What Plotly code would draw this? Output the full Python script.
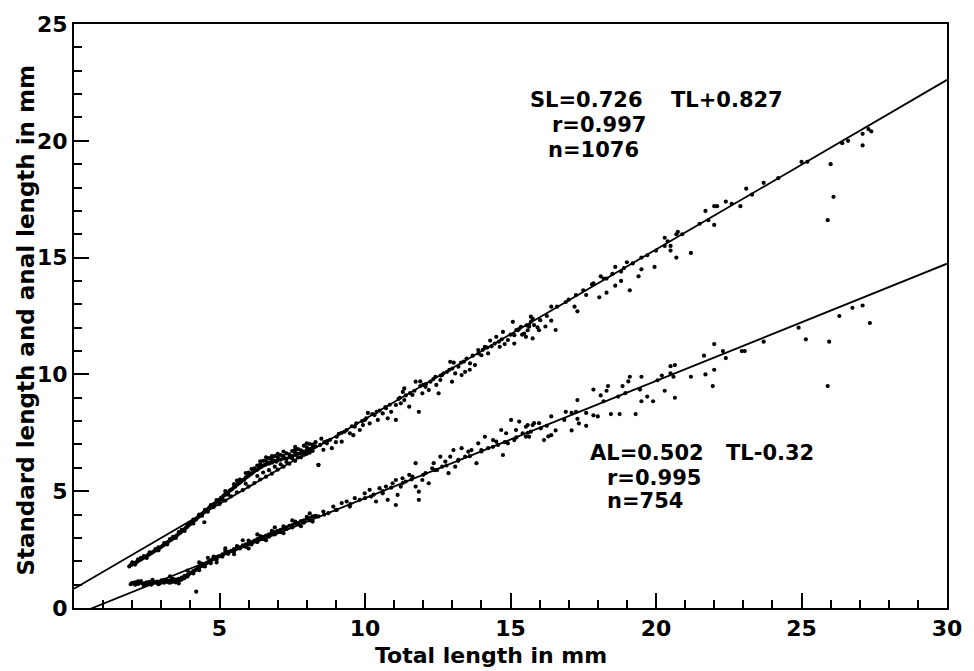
import plotly.graph_objects as go

# ---------------- data ----------------
# Standard length (SL) vs total length (TL)
sl_points = [
    # dense band, small fish
    (1.90,1.78),(1.95,1.84),(2.00,1.86),(2.05,1.90),(2.10,1.93),(2.15,1.97),(2.20,2.00),(2.25,2.06),
    (2.30,2.08),(2.35,2.12),(2.40,2.16),(2.45,2.18),(2.50,2.22),(2.55,2.27),(2.60,2.30),(2.65,2.35),
    (2.70,2.38),(2.75,2.43),(2.80,2.46),(2.85,2.50),(2.90,2.54),(2.95,2.58),(3.00,2.62),(3.05,2.67),
    (3.10,2.71),(3.15,2.75),(3.20,2.80),(3.25,2.84),(3.30,2.90),(3.35,2.93),(3.40,2.98),(3.45,3.03),
    (3.50,3.08),(3.55,3.12),(3.60,3.18),(3.65,3.22),(3.70,3.28),(3.75,3.33),(3.80,3.38),(3.85,3.44),
    (3.90,3.48),(3.95,3.55),(4.00,3.60),(4.05,3.66),(4.10,3.70),(4.15,3.76),(4.20,3.80),
    (2.30,2.15),(2.80,2.52),(3.30,2.95),(3.60,3.25),
    (2.00,1.95),(2.20,2.08),(2.40,2.22),(2.60,2.38),(2.90,2.60),(3.10,2.78),(3.40,3.05),(3.70,3.35),
    (3.90,3.58),(4.10,3.78),(2.10,1.86),(2.50,2.14),(2.90,2.47),(3.20,2.72),(3.50,3.00),(3.80,3.30),
    (4.10,3.62),
    (4.25,3.88),(4.30,3.92),(4.35,3.98),(4.40,4.03),(4.45,4.08),(4.50,4.12),(4.55,4.20),(4.60,4.22),
    (4.65,4.30),(4.70,4.33),(4.75,4.40),(4.80,4.45),(4.85,4.48),(4.90,4.55),(4.95,4.60),(5.00,4.63),
    (5.05,4.72),(5.10,4.75),(5.15,4.82),(5.20,4.85),(5.25,4.92),(5.30,4.95),(5.35,5.03),(5.40,5.06),
    (5.45,5.10),(5.50,5.18),(5.55,5.20),(5.60,5.28),(5.65,5.32),(5.70,5.36),(5.75,5.42),(5.80,5.48),
    (5.85,5.50),(5.90,5.58),(5.95,5.62),(6.00,5.66),(6.05,5.72),(6.10,5.75),(6.15,5.80),(6.20,5.86),
    (6.25,5.90),(6.30,5.92),(6.35,5.98),(6.40,6.02),(6.45,6.05),(6.50,6.10),(6.55,6.12),(6.60,6.15),
    (6.65,6.20),(6.70,6.18),(6.75,6.25),(6.80,6.22),(6.85,6.28),(6.90,6.30),(6.95,6.26),(7.00,6.32),
    (7.10,6.35),(7.20,6.40),(7.30,6.38),(7.40,6.45),(7.50,6.50),(7.60,6.55),(7.70,6.60),(7.80,6.62),
    (7.90,6.70),(8.00,6.75),(8.10,6.80),(8.20,6.88),(8.30,6.92),
    (4.30,4.00),(4.50,4.20),(4.70,4.40),(4.90,4.62),(4.40,3.95),(4.60,4.12),(4.80,4.32),(5.00,4.52),
    (5.10,4.65),(5.30,4.85),
    (5.00,4.45),(5.20,4.60),(5.40,4.78),(5.60,4.95),(5.80,5.05),(6.00,5.20),(6.20,5.35),(6.40,5.50),
    (6.60,5.62),(6.80,5.75),(7.00,5.92),(7.20,6.05),(7.40,6.18),(7.60,6.30),(7.80,6.45),(8.00,6.60),
    (8.20,6.72),
    (5.60,5.45),(5.90,5.78),(6.10,5.95),(6.30,6.10),(6.50,6.30),(6.70,6.42),(6.90,6.50),(7.10,6.55),
    (7.30,6.62),(7.50,6.72),(7.70,6.80),(7.90,6.95),(8.10,7.02),(6.60,6.45),(7.00,6.60),(7.60,6.90),
    (5.20,5.00),(5.50,5.30),(5.70,5.50),(6.00,5.80),(6.20,5.98),(6.40,6.15),(6.60,6.30),(6.80,6.38),
    (7.00,6.45),(7.20,6.50),(7.40,6.58),(7.60,6.65),(7.80,6.75),(8.00,6.88),(8.20,7.00),(5.90,5.32),
    (6.30,5.65),(6.70,5.90),(7.10,6.15),(7.50,6.40),(7.90,6.55),(6.50,5.80),(6.90,6.05),(7.30,6.25),
    (7.70,6.45),(8.10,6.65),(6.40,6.28),(6.80,6.50),(7.20,6.70),(7.60,6.78),(8.00,7.05),(8.30,7.10),
    (4.48,3.67),(8.40,6.12),
    # middle range
    (8.46,6.98),(8.57,6.77),(8.69,7.05),(8.86,6.84),(8.40,6.13),(9.03,7.33),(9.20,7.12),(9.37,7.62),
    (9.48,7.48),(9.65,7.76),(9.82,7.62),(9.93,7.83),(10.16,7.90),(10.04,8.12),(10.33,8.26),(10.44,8.05),
    (10.61,8.33),(10.72,8.55),(10.78,8.12),(11.06,8.05),(11.06,8.69),(11.23,8.76),(11.35,8.90),(11.35,9.40),
    (11.52,8.62),(11.74,9.69),(11.63,9.12),(11.85,8.40),(11.97,9.19),(12.08,9.47),(12.19,9.33),(12.25,9.69),
    (12.42,9.90),(12.53,9.19),(12.59,9.76),(12.65,9.97),(12.82,10.11),(12.93,10.54),(12.99,9.69),(13.10,10.04),
    (13.21,10.33),(13.32,9.97),(13.44,10.11),(13.49,10.68),(13.61,10.47),(13.78,10.40),(13.89,11.04),(14.00,10.82),
    (14.12,11.18),(14.23,10.90),(14.46,11.32),(14.51,11.61),(14.63,11.18),(14.74,11.82),(14.91,11.47),(15.08,12.25),
    (15.13,11.68),(15.25,11.89),(15.36,12.04),(15.47,11.75),(15.64,12.11),(15.76,12.39),(15.13,11.32),
    (8.60,7.10),(8.80,7.20),(9.10,7.45),(9.30,7.55),(9.55,7.78),(9.70,7.90),(10.00,8.05),(10.25,8.30),
    (10.50,8.45),(10.85,8.70),(11.15,8.95),(11.40,9.10),(11.70,9.30),(11.90,9.50),(12.10,9.60),(12.35,9.80),
    (12.70,10.05),(13.00,10.25),(13.40,10.55),(13.70,10.80),(14.05,11.05),(14.35,11.20),(14.70,11.50),(15.00,11.70),
    (15.30,11.95),(15.55,12.10),
    (8.70,7.15),(9.20,7.50),(9.90,8.00),(10.40,8.40),(10.70,8.60),(11.20,9.00),(11.55,9.20),(12.00,9.55),
    (12.60,9.95),(12.90,10.20),(13.30,10.50),(13.90,10.90),(14.20,11.15),(14.60,11.40),(15.20,11.90),(15.70,12.25),
    (8.50,7.25),(9.00,7.10),(9.60,7.40),(10.10,8.35),(10.90,8.40),(11.30,9.25),(11.90,9.70),(12.45,9.55),
    (13.05,10.50),(13.60,10.20),(14.30,11.45),(14.80,11.30),(15.40,11.70),
    (16.02,12.32),(15.93,12.01),(15.81,12.11),(15.70,12.47),(15.59,11.89),(15.76,11.54),(15.53,11.61),(15.98,11.89),
    (15.64,12.04),
    # large fish
    (26.00,19.00),(25.90,16.60),(26.10,17.60),(27.10,19.80),(27.40,20.40),(27.10,20.30),(26.40,19.90),(25.00,19.10),
    (25.20,19.10),(23.70,18.20),(23.10,17.95),(22.90,17.20),(22.40,17.40),(22.10,17.20),(22.00,17.20),(21.70,17.00),
    (21.80,16.60),(22.00,16.40),(21.20,15.20),(20.70,16.00),(20.75,16.10),(20.30,15.85),(20.30,15.50),(20.50,15.50),
    (20.70,15.00),(20.50,15.30),(19.95,14.60),(19.50,15.00),(19.50,14.50),(19.40,14.20),(19.00,14.80),(19.10,13.60),
    (18.80,14.40),(18.80,14.00),(18.60,14.60),(18.60,13.80),(18.30,14.10),(18.10,14.20),(18.30,13.50),(18.05,13.30),
    (17.85,13.90),(17.60,13.40),(17.25,13.40),(17.30,12.70),(17.20,12.90),(16.40,12.90),(16.25,12.50),(16.40,12.30),
    (16.55,11.90),(16.20,12.05),
    (16.60,12.90),(16.90,13.10),(17.00,13.20),(17.50,13.60),(17.80,13.85),(18.20,14.10),(18.50,14.30),(18.90,14.55),
    (19.20,14.75),(19.70,15.10),(20.00,15.30),(20.40,15.70),(20.90,16.00),(21.50,16.45),(22.60,17.30),(23.30,17.70),
    (24.20,18.40),(26.60,20.00),(27.30,20.50),
]

# Anal length (AL) vs total length (TL)
al_points = [
    (1.95,1.02),(2.00,1.08),(2.05,1.05),(2.10,1.10),(2.15,1.06),(2.20,1.03),(2.25,1.08),(2.30,1.10),
    (2.35,1.05),(2.40,1.02),(2.45,1.07),(2.50,1.10),(2.55,1.04),(2.60,1.06),(2.65,1.00),(2.70,1.05),
    (2.75,1.10),(2.80,1.08),(2.85,1.13),(2.90,1.10),(2.95,1.05),(3.00,1.10),(3.05,1.15),(3.10,1.08),
    (3.15,1.12),(3.20,1.18),(3.25,1.10),(3.30,1.15),(3.35,1.20),(3.40,1.12),(3.45,1.18),(3.50,1.22),
    (3.55,1.15),(3.60,1.25),(3.65,1.20),(3.70,1.30),(3.75,1.28),(3.80,1.38),(3.85,1.35),(3.90,1.42),
    (3.95,1.45),(4.00,1.50),(4.05,1.52),(4.10,1.58),(4.15,1.60),(4.20,1.65),
    (2.10,1.00),(2.30,1.15),(2.50,1.00),(2.70,1.14),(2.90,1.02),(3.10,1.20),(3.30,1.08),(3.50,1.10),
    (3.70,1.22),(3.90,1.35),(2.20,1.14),(2.60,1.12),(3.00,1.18),(3.40,1.25),(3.80,1.28),(4.10,1.48),
    (4.25,1.70),(4.30,1.72),(4.35,1.78),(4.40,1.80),(4.45,1.85),(4.50,1.88),(4.55,1.92),(4.60,1.95),
    (4.65,2.00),(4.70,2.02),(4.75,2.08),(4.80,2.10),(4.85,2.12),(4.90,2.18),(4.95,2.20),(5.00,2.22),
    (5.10,2.30),(5.20,2.35),(5.30,2.40),(5.40,2.45),(5.50,2.52),(5.60,2.55),(5.70,2.60),(5.80,2.68),
    (5.90,2.72),(6.00,2.78),(6.10,2.82),(6.20,2.88),(6.30,2.95),(6.40,2.98),(6.50,3.05),(6.60,3.10),
    (6.70,3.15),(6.80,3.20),(6.90,3.25),(7.00,3.30),(7.10,3.35),(7.20,3.42),(7.30,3.45),(7.40,3.52),
    (7.50,3.55),(7.60,3.62),(7.70,3.65),(7.80,3.72),(7.90,3.75),(8.00,3.82),(8.10,3.85),(8.20,3.92),
    (8.30,3.95),
    (4.30,1.62),(4.50,1.78),(4.70,1.92),(4.90,2.08),(5.10,2.20),(5.30,2.32),(5.50,2.42),(5.70,2.55),
    (5.90,2.62),(6.10,2.72),(6.30,2.82),(6.50,2.95),(6.70,3.05),(6.90,3.15),(7.10,3.25),(7.30,3.38),
    (7.50,3.45),(7.70,3.58),(7.90,3.65),(8.10,3.75),(4.40,1.90),(4.80,2.20),(5.20,2.45),(5.60,2.65),
    (6.00,2.88),(6.40,3.08),(6.80,3.30),(7.20,3.50),(7.60,3.70),(8.00,3.90),
    (4.30,1.95),(4.60,2.15),(4.90,1.95),(5.20,2.55),(5.50,2.30),(5.80,2.90),(6.00,2.55),(6.30,3.15),
    (6.60,2.90),(6.90,3.45),(7.20,3.20),(7.50,3.75),(7.80,3.50),(8.10,4.05),(8.20,3.70),(3.30,1.35),
    (3.60,1.05),(3.90,1.60),(2.70,1.20),(2.40,0.95),(4.20,0.70),
    (8.40,3.92),(8.57,4.13),(8.74,4.06),(8.91,4.34),(9.03,4.20),(9.20,4.49),(9.37,4.56),(9.48,4.34),
    (9.65,4.70),(9.82,4.63),(9.99,4.91),(10.16,5.06),(10.21,4.77),(10.38,4.56),(10.50,5.13),(10.61,4.91),
    (10.72,5.20),(10.78,4.63),(10.95,5.34),(11.06,5.48),(11.12,4.84),(11.06,4.41),(11.23,5.20),(11.29,5.55),
    (11.40,5.41),(11.52,5.70),(11.63,5.63),(11.74,6.20),(11.74,5.20),(11.85,4.98),(11.85,4.63),(11.97,5.48),
    (12.08,5.77),(12.19,5.34),(12.31,5.98),(12.36,6.20),(12.48,5.91),(12.59,6.48),(12.65,6.05),(12.76,6.27),
    (12.87,5.77),(12.93,6.48),(13.04,6.76),(13.10,6.05),(13.21,6.34),(13.32,6.84),(13.44,6.48),(13.55,6.69),
    (13.66,6.76),(13.83,6.20),(13.89,7.05),(14.00,6.76),(14.12,7.33),(14.23,6.84),(14.40,7.19),(14.51,7.12),
    (14.57,6.98),(14.74,6.55),(14.85,7.48),(15.02,8.05),(15.13,7.19),(15.19,7.62),(15.30,7.98),(15.42,7.48),
    (15.53,7.76),(15.64,7.33),(15.76,7.83),(14.68,7.62),(14.91,7.05),
    (8.60,4.00),(9.00,4.20),(9.50,4.45),(10.00,4.70),(10.30,4.85),(10.60,5.00),(10.90,5.15),(11.30,5.35),
    (11.60,5.50),(12.00,5.70),(12.40,5.90),(12.80,6.10),(13.20,6.30),(13.60,6.50),(14.00,6.70),(14.40,6.90),
    (14.80,7.10),(15.20,7.30),(15.60,7.50),
    (15.59,7.83),(15.81,7.91),(15.98,7.91),(15.70,7.55),(15.53,7.34),(16.04,7.69),(16.15,7.19),
    (27.35,12.20),(27.10,12.95),(26.75,12.85),(26.30,12.50),(25.95,11.40),(25.90,9.50),(25.15,11.50),(24.90,12.00),
    (23.70,11.40),(22.95,11.00),(23.05,11.00),(22.00,11.30),(22.30,11.00),(22.40,10.70),(21.65,10.80),(21.70,10.00),
    (22.00,10.20),(21.95,9.50),(21.20,9.90),(20.65,10.40),(20.50,10.35),(20.50,10.05),(20.60,9.90),(20.65,9.00),
    (20.30,9.30),(20.05,9.75),(20.20,9.95),(19.50,9.90),(19.50,8.85),(19.70,9.05),(19.90,8.85),(19.45,9.35),
    (19.10,9.90),(19.05,9.70),(18.85,9.50),(18.70,9.05),(18.75,8.30),(18.95,9.20),(19.30,8.30),(18.35,9.50),
    (18.30,9.30),(18.20,8.85),(18.10,9.10),(17.85,9.35),(18.45,8.30),(18.00,8.20),(17.85,8.25),(17.60,8.35),
    (17.30,8.90),(17.25,8.40),(17.10,8.35),(16.90,8.40),(16.85,8.05),(17.30,8.10),(17.35,7.90),(17.10,7.60),
    (17.60,7.80),(16.40,8.20),(16.40,7.40),(16.30,7.35),(16.55,7.60),(16.25,7.80),
]

# regression lines: (slope, intercept)
sl_fit = (0.726, 0.827)
al_fit = (0.502, -0.32)
fit_x = [0, 30]

x_ticks = [5, 10, 15, 20, 25, 30]
y_ticks = [0, 5, 10, 15, 20, 25]

# ---------------- figure ----------------
W, H = 974, 671
ML, MR, MT, MB = 74, 16, 20, 63
PW, PH = W - ML - MR, H - MT - MB
FONT = "DejaVu Sans"


def px(x):
    return (x - ML) / PW


def py(y):
    return (H - MB - y) / PH


fig = go.Figure()
for pts in (sl_points, al_points):
    fig.add_trace(go.Scatter(
        x=[p[0] for p in pts], y=[p[1] for p in pts], mode="markers",
        marker=dict(color="black", size=4.2, line=dict(width=0)),
        showlegend=False, hoverinfo="skip"))
for slope, icpt in (sl_fit, al_fit):
    fig.add_trace(go.Scatter(
        x=fit_x, y=[slope * v + icpt for v in fit_x], mode="lines",
        line=dict(color="black", width=1.8), showlegend=False, hoverinfo="skip"))

axis_common = dict(
    showgrid=False, zeroline=False, showline=True, linecolor="black", linewidth=2,
    mirror=True, ticks="inside", ticklen=15, tickwidth=2, tickcolor="black",
    tickfont=dict(family=FONT, size=22, color="black", weight="bold"),
    minor=dict(ticks="inside", ticklen=8, tickwidth=1.5, tickcolor="black",
               tickmode="linear", tick0=0, dtick=1, showgrid=False),
)
fig.update_xaxes(range=[0, 30], tickmode="array", tickvals=x_ticks,
                 ticktext=[str(v) for v in x_ticks], ticklabelstandoff=0, **axis_common)
fig.update_yaxes(range=[0, 25], tickmode="array", tickvals=y_ticks,
                 ticktext=[str(v) for v in y_ticks], ticklabelstandoff=0, **axis_common)

ann = []


def add_text(t, x, y, size=21, anchor="left", angle=0):
    ann.append(dict(text=t, x=px(x), y=py(y), xref="paper", yref="paper",
                    xanchor=anchor, yanchor="middle", showarrow=False, textangle=angle,
                    font=dict(family=FONT, size=size, color="black", weight="bold")))


add_text("SL=0.726", 534, 97)
add_text("TL+0.827", 677, 97)
add_text("r=0.997", 556, 122)
add_text("n=1076", 552, 147)
add_text("AL=0.502", 594, 452)
add_text("TL-0.32", 732, 452)
add_text("r=0.995", 612, 477)
add_text("n=754", 612, 500)
add_text("Total length in mm", 377, 656, size=22)
add_text("Standard length and anal length in mm", 25, 318, size=23, anchor="center", angle=-90)

fig.update_layout(
    width=W, height=H, margin=dict(l=ML, r=MR, t=MT, b=MB),
    paper_bgcolor="white", plot_bgcolor="white", annotations=ann,
    font=dict(family=FONT, color="black"),
)
fig.write_html("out.html")
